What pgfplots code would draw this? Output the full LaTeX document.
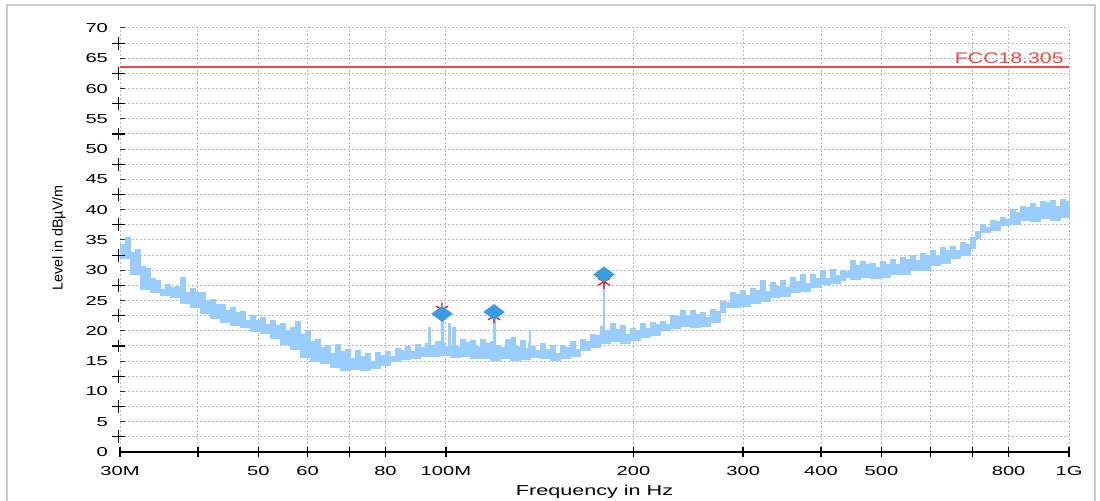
\documentclass[border=0pt]{standalone}
\usepackage{fontspec}
\setmainfont{Liberation Sans}
\newfontfamily\tickfont[FakeStretch=1.55]{Liberation Sans}
\newfontfamily\xlabfont[FakeStretch=1.5]{Liberation Sans}
\newfontfamily\fccfont[FakeStretch=1.38]{Liberation Sans}
\usepackage{pgfplots}
\pgfplotsset{compat=1.18}
\definecolor{trace}{RGB}{153,204,255}
\definecolor{peak}{RGB}{58,155,222}
\definecolor{limitred}{RGB}{240,70,70}
\definecolor{gridgray}{RGB}{185,185,185}

\begin{document}
\begin{tikzpicture}
\path[use as bounding box] (-60pt,-24.5pt) rectangle (490pt,226pt);
\begin{axis}[
    at={(0,0)}, anchor=south west,
    scale only axis, width=474.5pt, height=212pt,
    xmode=log, xmin=30, xmax=1000, ymin=0, ymax=70,
    clip=false,
    axis x line=bottom, axis y line=left,
    axis line style={-},
    x axis line style={black, line width=0.7pt},
    y axis line style={draw=none},
    xtick={30,40,50,60,70,80,100,200,300,400,500,600,700,800,1000},
    xticklabels={30M,,50,60,,80,100M,200,300,400,500,,,800,1G},
    minor xtick={},
    ytick={0,5,...,70},
    minor ytick={2.5,7.5,...,67.5},
    xmajorgrids, ymajorgrids, yminorgrids,
    grid style={gridgray, line width=0.5pt, dash pattern=on 1pt off 1pt},
    minor grid style={gridgray, line width=0.5pt, dash pattern=on 1pt off 1pt},
    tick align=center, major tick length=5pt,
    xtick style={black, line width=0.7pt},
    ytick style={draw=none},
    minor tick length=0pt,
    /pgf/number format/assume math mode=true,
    ticklabel style={font=\tickfont\fontsize{6.5}{7.5}\selectfont},
    xticklabel style={yshift=-1pt},
    xlabel={\xlabfont\fontsize{7.2}{8}\selectfont Frequency in Hz},
    ylabel={\fontsize{7.2}{8}\selectfont Level in dBµV/m},
    every axis x label/.style={at={(axis description cs:0.5,-0.094)}, anchor=center},
    every axis y label/.style={at={(axis description cs:-0.0643,0.505)}, rotate=90, anchor=center},
]
% measured trace: upper edge forward, lower edge back
\addplot[fill=trace, draw=trace, line width=0.4pt, const plot] coordinates {
(30.00,34.2) (30.56,35.5) (31.13,33.0) (31.71,33.4) (32.30,30.6) (32.90,30.3) (33.52,28.6) (34.14,28.3)
(34.78,26.9) (35.43,27.6) (36.09,27.1) (36.76,27.4) (37.45,28.9) (38.15,26.4) (38.85,27.0) (39.58,26.3)
(40.32,26.3) (41.07,25.0) (41.83,25.2) (42.61,24.3) (43.41,24.4) (44.22,23.3) (45.05,23.9) (45.89,23.0)
(46.75,23.2) (47.62,21.8) (48.50,22.6) (49.40,21.8) (50.34,22.2) (51.28,21.0) (52.24,21.7) (53.21,20.9)
(54.20,21.2) (55.21,20.0) (56.24,20.6) (57.29,21.6) (58.36,19.4) (59.45,20.0) (60.55,18.2) (61.68,18.6)
(62.82,17.3) (63.99,17.6) (65.19,16.2) (66.41,17.8) (67.64,16.6) (68.90,17.0) (70.19,15.5) (71.50,16.7)
(72.83,15.7) (74.19,16.2) (75.57,15.0) (76.98,16.5) (78.41,15.9) (79.87,16.6) (81.37,15.8) (82.89,17.1)
(84.42,16.8) (86.00,17.5) (87.60,16.6) (89.23,17.7) (90.89,17.3) (92.59,17.9) (93.7,17.2) (93.8,20.6) (94.0,20.6) (94.34,17.6)
(96.10,18.3) (97.88,17.2) (98.3,18.0) (98.4,22.5) (98.8,22.5) (99.0,17.9) (99.71,17.4) (100.8,18.0) (101.0,21.3) (101.2,21.3) (101.6,17.6) (102.3,18.1) (102.5,20.6) (102.7,20.6)
(103.5,17.4) (105.4,18.6) (107.4,18.1) (109.4,18.5) (111.4,17.4) (113.5,18.6) (115.6,18.0) (117.8,18.3)
(119.1,18.1) (119.3,22.5) (119.7,22.5) (119.9,17.6) (122.2,17.2) (124.5,18.6) (126.8,18.0) (127.5,19.0) (129.2,17.4) (131.6,18.5)
(134.1,17.1) (135.8,18.0) (136.0,20.1) (136.3,20.1) (136.6,17.4) (139.1,16.8) (141.7,18.0) (144.3,16.9) (147.0,17.6) (149.7,16.2)
(152.6,17.6) (155.4,17.2) (158.3,18.2) (161.3,17.0) (164.3,18.6) (167.4,18.3) (170.4,19.4) (173.6,19.3)
(176.9,20.7) (178.9,21.2) (179.1,28.0) (179.6,28.0) (179.8,20.0) (183.5,21.2) (186.9,20.3) (190.4,20.9) (194.0,19.4)
(197.6,20.4) (201.3,20.0) (205.0,21.2) (208.8,20.4) (212.7,21.4) (216.7,21.0) (220.8,21.6) (224.9,21.0)
(229.0,22.5) (233.3,22.4) (237.7,23.4) (242.1,22.6) (246.6,23.4) (251.2,22.7) (255.9,23.0) (260.7,22.3)
(265.5,23.6) (270.5,23.2) (275.6,24.8) (280.7,24.7) (285.9,26.4) (291.2,26.0) (296.7,26.6) (302.2,25.8)
(307.8,27.0) (313.5,26.6) (319.5,28.3) (325.4,26.5) (331.5,28.0) (337.7,27.3) (344.0,28.4) (350.4,27.2)
(356.9,28.8) (363.6,28.1) (370.4,29.3) (377.3,27.8) (384.3,29.4) (391.5,28.7) (398.8,29.9) (406.2,28.6)
(413.7,30.1) (421.4,29.2) (429.4,30.0) (437.4,29.8) (445.5,31.6) (453.8,30.8) (462.3,31.5) (470.9,31.0)
(479.8,31.2) (488.7,30.4) (497.8,31.4) (507.1,31.0) (516.6,31.8) (526.2,30.9) (536.0,32.1) (546.0,31.8)
(556.1,32.4) (566.5,31.6) (577.1,32.8) (587.9,32.5) (598.9,33.2) (610.0,32.4) (621.4,33.7) (633.0,33.3)
(644.8,34.0) (656.8,33.3) (669.0,34.6) (681.5,34.3) (694.3,35.4) (707.2,36.4) (720.3,37.6) (733.7,37.0)
(747.5,38.2) (761.4,38.0) (775.6,38.8) (790.1,38.4) (804.9,40.0) (819.9,39.6) (835.1,40.6) (850.7,40.4)
(866.6,41.1) (882.7,40.4) (899.1,41.4) (915.9,41.2) (933.1,41.6) (950.5,40.6) (968.0,41.7) (986.1,41.4)
(1000,42.1)
(1000,38.8) (968.0,38.2) (933.1,38.5) (899.1,38.0) (866.6,38.3) (835.1,37.6) (804.9,37.4) (775.6,36.6)
(747.5,36.2) (720.3,35.3) (707.2,33.6) (694.3,32.4) (669.0,32.0) (644.8,31.2) (621.4,30.8) (598.9,30.0)
(577.1,30.0) (556.1,29.4) (536.0,29.4) (516.6,28.9) (497.8,28.6) (479.8,28.8) (462.3,28.5) (445.5,28.8)
(437.4,28.4) (429.4,27.9) (413.7,27.7) (398.8,27.1) (384.3,26.5) (370.4,26.3) (356.9,25.7) (344.0,25.5)
(331.5,24.8) (319.5,24.6) (307.8,24.0) (296.7,23.9) (285.9,23.8) (280.7,23.0) (275.6,21.4) (265.5,20.8)
(255.9,20.5) (246.6,20.7) (237.7,20.4) (229.0,20.0) (220.8,19.2) (212.7,18.9) (205.0,18.4) (197.6,18.0)
(190.4,18.3) (183.5,18.0) (176.9,17.3) (170.4,16.7) (164.3,15.8) (158.3,15.4) (152.6,15.2) (147.0,15.4)
(141.7,15.6) (136.5,15.3) (131.6,15.2) (126.8,15.4) (122.2,15.2) (117.8,15.5) (113.5,15.5) (109.4,15.8)
(105.4,15.6) (101.6,15.9) (97.88,15.7) (94.34,15.7) (90.89,15.5) (87.60,15.3) (84.42,14.9) (81.37,14.3)
(78.41,13.8) (75.57,13.5) (72.83,13.6) (70.19,13.5) (67.64,13.9) (65.19,14.6) (62.82,15.0) (60.55,15.6)
(58.36,17.0) (56.24,17.8) (54.20,18.8) (52.24,19.5) (50.34,19.9) (48.50,20.5) (46.75,20.9) (45.05,21.4)
(43.41,22.1) (41.83,22.8) (40.32,23.8) (38.85,24.6) (37.45,25.5) (36.09,25.8) (34.78,26.3) (33.52,26.8)
(32.30,29.3) (31.13,32.0) (30.00,32.5)
};
% limit line
\addplot[limitred, line width=1pt] coordinates {(30,63.5) (1000,63.5)};
\node[anchor=south east, text=limitred, inner sep=0pt, xshift=-2.5pt, yshift=1.5pt,
      font=\fccfont\fontsize{7.7}{8.5}\selectfont] at (axis cs:1000,63.5) {FCC18.305};
% peak markers
\addplot[only marks, mark=asterisk, mark size=3.5pt, red, line width=0.6pt] coordinates {
(98.6,23.5) (119.5,22.4) (179.4,28.1)};
\addplot[only marks, mark=diamond*, mark size=5pt, mark options={rotate=90, fill=peak, draw=peak}] coordinates {
(98.6,22.8) (119.5,23.1) (179.4,29.3)};
% y-axis dash and plus marks
\addplot[only marks, mark=-, mark size=1.2pt, black!80, line width=0.5pt] coordinates {
(30.3,5) (30.3,10) (30.3,15) (30.3,20) (30.3,25) (30.3,30) (30.3,35) (30.3,40)
(30.3,45) (30.3,50) (30.3,55) (30.3,60) (30.3,65) (30.3,70)};
\addplot[only marks, mark=+, mark size=3.2pt, black, line width=0.6pt] coordinates {
(29.83,2.5) (29.83,7.5) (29.83,12.5) (29.83,17.5) (29.83,22.5) (29.83,27.5) (29.83,32.5)
(29.83,37.5) (29.83,42.5) (29.83,47.5) (29.83,52.5) (29.83,57.5) (29.83,62.5) (29.83,67.5)};
\end{axis}
\draw[gray!40, line width=1pt] (-56.5pt,-30pt) -- (-56.5pt,223.5pt) -- (487.5pt,223.5pt) -- (487.5pt,-30pt);
\end{tikzpicture}
\end{document}
